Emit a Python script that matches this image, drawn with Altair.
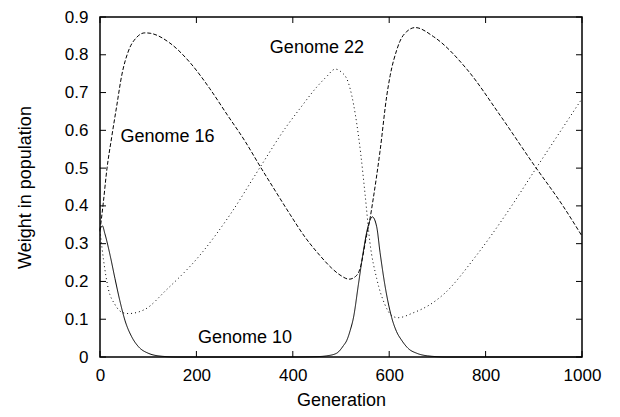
import altair as alt
import pandas as pd

# ---- data ----
g10_gen = [0, 5, 10, 21, 31, 41, 52, 66, 80, 100, 128, 160, 200, 300, 400, 450, 470, 491, 505, 512, 519, 526, 536, 546, 556, 565, 574, 581, 591, 605, 615, 626, 640, 657, 680, 720, 800, 1000]
g10_w = [0.338, 0.347, 0.327, 0.269, 0.208, 0.15, 0.096, 0.053, 0.027, 0.01, 0.002, 0, 0, 0, 0, 0.001, 0.003, 0.01, 0.03, 0.044, 0.07, 0.105, 0.191, 0.277, 0.345, 0.371, 0.345, 0.277, 0.191, 0.105, 0.068, 0.044, 0.022, 0.01, 0.003, 0, 0, 0]

g16_gen = [0, 7, 14, 24, 35, 45, 59, 76, 93, 104, 145, 187, 228, 263, 301, 332, 365, 394, 425, 456, 480, 498, 517, 530, 539, 553, 560, 567, 581, 595, 602, 616, 622, 636, 654, 692, 761, 830, 899, 961, 1000]
g16_w = [0.335, 0.41, 0.494, 0.58, 0.667, 0.745, 0.81, 0.846, 0.858, 0.857, 0.831, 0.779, 0.71, 0.643, 0.571, 0.505, 0.437, 0.378, 0.318, 0.269, 0.236, 0.217, 0.206, 0.213, 0.232, 0.321, 0.365, 0.42, 0.545, 0.692, 0.745, 0.814, 0.835, 0.861, 0.872, 0.848, 0.762, 0.64, 0.511, 0.399, 0.32]

g22_gen = [0, 7, 17, 31, 48, 59, 93, 138, 207, 270, 332, 384, 415, 450, 470, 488, 500, 515, 530, 541, 550, 560, 574, 591, 605, 618, 650, 685, 712, 781, 844, 906, 1000]
g22_w = [0.335, 0.26, 0.182, 0.139, 0.117, 0.115, 0.126, 0.178, 0.269, 0.377, 0.502, 0.605, 0.658, 0.715, 0.742, 0.762, 0.755, 0.727, 0.64, 0.537, 0.43, 0.303, 0.208, 0.139, 0.11, 0.104, 0.117, 0.139, 0.165, 0.269, 0.381, 0.502, 0.684]

series_names = ["Genome 10", "Genome 16", "Genome 22"]

label_text = ["Genome 16", "Genome 22", "Genome 10"]
label_gen = [140, 450, 301]
label_w = [0.582, 0.818, 0.05]

x_ticks = [0, 200, 400, 600, 800, 1000]
y_ticks = [0, 0.1, 0.2, 0.3, 0.4, 0.5, 0.6, 0.7, 0.8, 0.9]

# ---- tables ----
rows = []
for name, xs, ys in zip(series_names, [g10_gen, g16_gen, g22_gen], [g10_w, g16_w, g22_w]):
    for x, y in zip(xs, ys):
        rows.append({"series": name, "gen": x, "w": y})
df = pd.DataFrame(rows)
labels_df = pd.DataFrame({"text": label_text, "gen": label_gen, "w": label_w})
xt_df = pd.DataFrame({"gen": x_ticks})
yt_df = pd.DataFrame({"w": y_ticks})

FONT = "Liberation Sans"
W, H = 482, 340
x_scale = alt.Scale(domain=[0, 1000], nice=False, zero=False)
y_scale = alt.Scale(domain=[0, 0.9], nice=False)

x_axis = alt.Axis(values=x_ticks, ticks=False, tickSize=0, domain=False, grid=False,
                  labelFontSize=17, labelPadding=10, labelFont=FONT, labelColor="black",
                  titleFontSize=18, titleFont=FONT, titleFontWeight="normal", titleColor="black",
                  titlePadding=8, labelFlush=False, format="d")
y_axis = alt.Axis(values=y_ticks, ticks=False, tickSize=0, domain=False, grid=False,
                  labelFontSize=17, labelPadding=12, labelFont=FONT, labelColor="black",
                  titleFontSize=18, titleFont=FONT, titleFontWeight="normal", titleColor="black",
                  titlePadding=30, labelFlush=False, format=".1~f")

X = lambda: alt.X("gen:Q", scale=x_scale, axis=x_axis, title="Generation")
Y = lambda: alt.Y("w:Q", scale=y_scale, axis=y_axis, title="Weight in population")

lines = alt.Chart(df).mark_line(color="black", strokeWidth=1, interpolate="monotone").encode(
    x=X(), y=Y(),
    detail="series:N",
    strokeDash=alt.StrokeDash("series:N", scale=alt.Scale(domain=series_names, range=[[1, 0], [4, 2], [1, 3]]), legend=None),
)

texts = alt.Chart(labels_df).mark_text(font=FONT, fontSize=18, color="black", align="center", baseline="middle").encode(
    x=X(), y=Y(), text="text:N"
)

yt_left = alt.Chart(yt_df).mark_rule(color="black", strokeWidth=1).encode(y=Y(), x=alt.value(0), x2=alt.value(6))
yt_right = alt.Chart(yt_df).mark_rule(color="black", strokeWidth=1).encode(y=Y(), x=alt.value(W - 6), x2=alt.value(W))
xt_bottom = alt.Chart(xt_df).mark_rule(color="black", strokeWidth=1).encode(x=X(), y=alt.value(H), y2=alt.value(H - 6))
xt_top = alt.Chart(xt_df).mark_rule(color="black", strokeWidth=1).encode(x=X(), y=alt.value(0), y2=alt.value(6))

chart = alt.layer(lines, texts, yt_left, yt_right, xt_bottom, xt_top).properties(
    width=W, height=H,
    autosize=alt.AutoSizeParams(type="none"),
    padding={"left": 92, "top": 9, "right": 20, "bottom": 52},
    background="white",
).configure_view(stroke="black", strokeWidth=1.5)

chart.save("out.html", embed_options={"renderer": "svg", "actions": False})
